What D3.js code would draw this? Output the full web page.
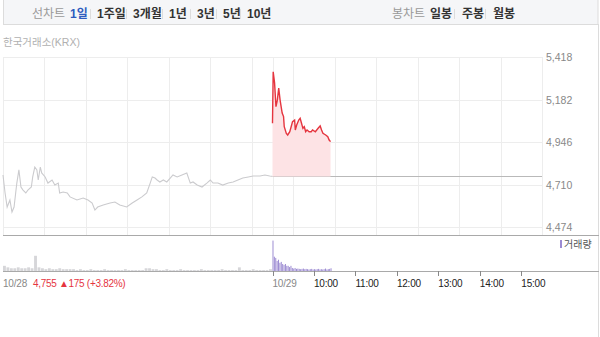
<!DOCTYPE html>
<html>
<head>
<meta charset="utf-8">
<script src="https://cdn.jsdelivr.net/npm/d3@7"></script>
<style>
  body { margin: 0; background: #fff; }
  svg { display: block; font-family: "Liberation Sans", "Noto Sans CJK KR", sans-serif; }
</style>
</head>
<body>
<svg id="chart" width="600" height="337"></svg>
<script>
// 10/28 (previous session) price
const prevTimes = ["09:00","09:03","09:06","09:10","09:13","09:16","09:20","09:23","09:26","09:29",
  "09:33","09:36","09:41","09:43","09:46","09:49","09:51","09:54","09:56","10:01",
  "10:05","10:11","10:15","10:20","10:22","10:27","10:33","10:37","10:47","10:56",
  "11:03","11:09","11:13","11:17","11:25","11:35","11:42","11:49","11:59","12:07",
  "12:14","12:21","12:28","12:33","12:36","12:40","12:43","12:47","12:52","12:57",
  "13:02","13:06","13:12","13:19","13:26","13:31","13:35","13:41","13:48","13:55",
  "14:00","14:04","14:11","14:18","14:26","14:33","14:40","14:47","14:55","15:02",
  "15:12","15:19","15:26","15:30"];
const prevPrices = [4763,4663,4585,4624,4557,4585,4718,4791,4696,4679,
  4663,4679,4696,4752,4807,4791,4735,4807,4774,4752,
  4718,4735,4707,4718,4663,4668,4663,4641,4624,4635,
  4624,4607,4568,4585,4596,4607,4613,4596,4585,4607,
  4624,4641,4663,4718,4752,4746,4735,4724,4735,4724,
  4746,4763,4752,4763,4774,4718,4724,4707,4696,4718,
  4735,4718,4718,4707,4718,4724,4735,4746,4752,4757,
  4757,4763,4757,4755];

// 10/29 (today) price
const todayTimes = ["09:00","09:01","09:03","09:05","09:07","09:09","09:11","09:14","09:16","09:17",
  "09:20","09:22","09:25","09:27","09:29","09:32","09:33","09:35","09:38","09:40",
  "09:42","09:44","09:46","09:48","09:50","09:53","09:56","09:58","10:02","10:06",
  "10:09","10:11","10:13","10:17","10:20","10:22","10:24"];
const todayPrices = [5050,5336,5274,5142,5179,5246,5179,5107,5087,5031,
  4994,4985,5003,5031,5059,5068,5013,5040,5068,5078,
  5050,5022,5031,5003,5013,5003,5003,5013,5003,5022,
  5035,5013,4994,4985,4975,4957,4948];

const prevClose = 4755;

// volume (5-minute bins for 10/28, 2-minute bins for 10/29)
const prevVolume = [17,12,9,9,12,9,9,12,9,50,
  12,9,6,9,6,6,9,6,6,6,
  6,3,6,3,3,6,3,3,3,6,
  3,3,3,3,3,6,3,3,3,3,
  3,9,9,6,6,3,3,6,3,3,
  3,6,3,3,3,3,3,6,3,3,
  3,3,3,6,3,3,3,3,12,3,
  3,3,6,3,3,3,3,6];
const todayVolume = [100,47,43,33,37,27,30,23,20,23,
  17,17,13,17,10,8,10,7,8,7,
  6,7,8,6,7,6,5,6,7,5,
  6,5,6,7,5,6,5,6,8,5,
  6,7,9];

const yTicks = [5418, 5182, 4946, 4710, 4474];
const xTickLabels = ["10/29","10:00","11:00","12:00","13:00","14:00","15:00"];
const chartTabs = ["1일","1주일","3개월","1년","3년","5년","10년"];
const candleTabs = ["일봉","주봉","월봉"];

const svg = d3.select("#chart");

// session minutes: 10/28 = 0..390, 10/29 = 390..780
const toMin = (t) => { const p = t.split(":"); return (+p[0] - 9) * 60 + (+p[1]); };
const prevData = prevTimes.map((t, i) => ({ m: toMin(t), v: prevPrices[i] }));
const todayData = todayTimes.map((t, i) => ({ m: 390 + toMin(t), v: todayPrices[i] }));

const x = d3.scaleLinear().domain([0, 780]).range([3, 542]);
const y = d3.scaleLinear().domain([4474, 5418]).range([227, 57]);
const yVol = d3.scaleLinear().domain([0, 115]).range([271, 236]);

// top tab bar
svg.append("rect").attr("x", 3.5).attr("y", -1).attr("width", 594.5).attr("height", 25.5)
  .attr("fill", "#f5f6f8").attr("stroke", "#dcdcdc");

const tabs = svg.append("g").style("font-size", "12px").style("font-weight", "bold");
tabs.append("text").attr("x", 32).attr("y", 18).attr("fill", "#999").style("font-weight", "normal").text("선차트");
const tabX = [70, 97, 133, 169, 197, 223, 247];
chartTabs.forEach((t, i) => {
  tabs.append("text").attr("x", tabX[i]).attr("y", 18)
    .attr("fill", i === 0 ? "#2e5bbf" : "#333").text(t);
  if (i > 0) tabs.append("line").attr("x1", tabX[i] - 6.5).attr("x2", tabX[i] - 6.5)
    .attr("y1", 9).attr("y2", 19).attr("stroke", "#ddd");
});
tabs.append("text").attr("x", 392).attr("y", 18).attr("fill", "#999").style("font-weight", "normal").text("봉차트");
const candleX = [430, 462, 493];
candleTabs.forEach((t, i) => {
  tabs.append("text").attr("x", candleX[i]).attr("y", 18).attr("fill", "#333").text(t);
  if (i > 0) tabs.append("line").attr("x1", candleX[i] - 7.5).attr("x2", candleX[i] - 7.5)
    .attr("y1", 9).attr("y2", 19).attr("stroke", "#ddd");
});

// right frame border
svg.append("line").attr("x1", 598.5).attr("x2", 598.5).attr("y1", 24).attr("y2", 337).attr("stroke", "#dcdcdc");

svg.append("text").attr("x", 3).attr("y", 46).attr("fill", "#b0b0b0")
  .style("font-size", "10.5px").text("한국거래소(KRX)");

// grid
const hourMins = d3.range(0, 781, 60).concat([390]);
svg.append("g").selectAll("line").data(hourMins).join("line")
  .attr("x1", (d) => Math.round(x(d)) + 0.5).attr("x2", (d) => Math.round(x(d)) + 0.5)
  .attr("y1", 57).attr("y2", 235).attr("stroke", "#ededed");
svg.append("g").selectAll("line").data(yTicks).join("line")
  .attr("x1", 3).attr("x2", 543)
  .attr("y1", (d) => Math.round(y(d)) + 0.5).attr("y2", (d) => Math.round(y(d)) + 0.5)
  .attr("stroke", "#ededed");

svg.append("g").selectAll("text").data(yTicks).join("text")
  .attr("x", 546).attr("y", (d) => y(d) + 4)
  .attr("fill", "#888").style("font-size", "10.5px")
  .text((d) => d3.format(",")(d));

// previous close reference line
svg.append("line").attr("x1", x(390)).attr("x2", x(780))
  .attr("y1", Math.round(y(prevClose)) + 0.5).attr("y2", Math.round(y(prevClose)) + 0.5)
  .attr("stroke", "#b9b9b9");

// 10/28 line
const line = d3.line().x((d) => x(d.m)).y((d) => y(d.v));
svg.append("path").datum(prevData).attr("d", line)
  .attr("fill", "none").attr("stroke", "#cbcbce").attr("stroke-width", 1.1);

// 10/29 area + line
const area = d3.area().x((d) => x(d.m)).y0(y(prevClose)).y1((d) => y(d.v));
svg.append("path").datum(todayData).attr("d", area).attr("fill", "#fde3e5");
svg.append("path").datum(todayData).attr("d", line)
  .attr("fill", "none").attr("stroke", "#e5353f").attr("stroke-width", 1.4);

// volume panel
svg.append("line").attr("x1", 3).attr("x2", 599).attr("y1", 235.5).attr("y2", 235.5).attr("stroke", "#a9a9a9");
svg.append("g").selectAll("rect").data(prevVolume).join("rect")
  .attr("x", (d, i) => x(i * 5)).attr("width", x(5) - x(0) - 0.6)
  .attr("y", (d) => yVol(d)).attr("height", (d) => yVol(0) - yVol(d))
  .attr("fill", "#d6d6d9");
svg.append("g").selectAll("rect").data(todayVolume).join("rect")
  .attr("x", (d, i) => x(390 + i * 2)).attr("width", x(2) - x(0) - 0.4)
  .attr("y", (d) => yVol(d)).attr("height", (d) => yVol(0) - yVol(d))
  .attr("fill", "#9c8bd2");
svg.append("line").attr("x1", 3).attr("x2", 599).attr("y1", 271.5).attr("y2", 271.5).attr("stroke", "#a9a9a9");

svg.append("rect").attr("x", 560).attr("y", 240).attr("width", 2).attr("height", 8).attr("fill", "#9c8bd2");
svg.append("text").attr("x", 564).attr("y", 248).attr("fill", "#555").style("font-size", "10px").text("거래량");

// x axis
const xTickMins = [390, 450, 510, 570, 630, 690, 750];
const xa = svg.append("g").style("font-size", "10px").style("letter-spacing", "-0.2px");
xa.selectAll("line").data(xTickMins).join("line")
  .attr("x1", (d) => Math.round(x(d)) + 0.5).attr("x2", (d) => Math.round(x(d)) + 0.5)
  .attr("y1", 271).attr("y2", 276).attr("stroke", "#888");
xa.selectAll("text").data(xTickMins).join("text")
  .attr("x", (d) => x(d)).attr("y", 287)
  .attr("fill", (d, i) => i === 0 ? "#888" : "#222")
  .text((d, i) => xTickLabels[i]);

xa.append("text").attr("x", 3).attr("y", 287).attr("fill", "#888").text("10/28");
xa.append("text").attr("x", 33).attr("y", 287).attr("fill", "#e5353f")
  .style("letter-spacing", "-0.3px")
  .text(d3.format(",")(prevClose) + " ▲175 (+3.82%)");
</script>
</body>
</html>
